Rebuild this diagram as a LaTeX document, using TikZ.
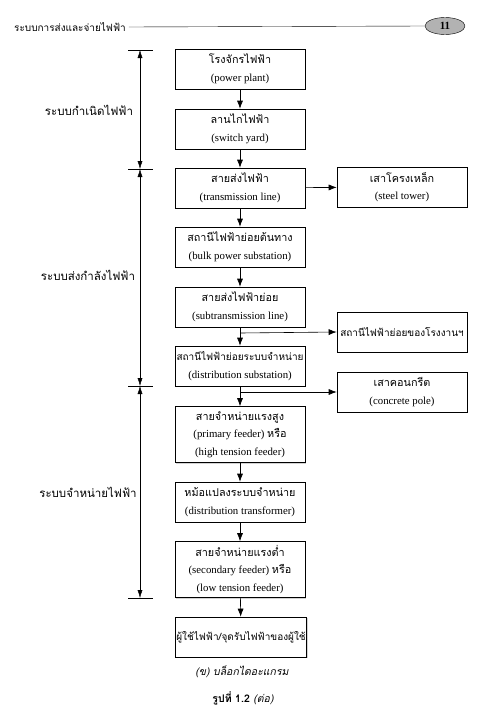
\documentclass[tikz,border=0pt]{standalone}
\usepackage{fontspec}
\setmainfont{Liberation Serif}
\newfontfamily\thaifont[Script=Thai]{Loma}
\newcommand\thaitight{\thaifont\fontsize{10}{17.5}\selectfont}
\usetikzlibrary{arrows.meta,shadows,shapes.geometric}

\tikzset{
  blk/.style={draw, semithick, fill=white, minimum width=130pt, minimum height=40pt,
    align=center, inner sep=1pt, font=\fontsize{10.8}{17.5}\selectfont,
    drop shadow={shadow xshift=1.2pt, shadow yshift=-1.2pt, opacity=0.35}},
  tall/.style={blk, minimum height=56pt},
  flow/.style={-{Latex[length=8pt,width=6pt]}, semithick},
  span/.style={{Latex[length=8pt,width=5pt]}-{Latex[length=8pt,width=5pt]}, thin},
  lbl/.style={font=\thaifont\fontsize{11.5}{13}\selectfont}
}

\begin{document}
\begin{tikzpicture}[x=1pt, y=-1pt]
\useasboundingbox (0,0) rectangle (489,720);

% page header
\node[font=\thaifont\fontsize{10}{12}\selectfont, anchor=west, inner sep=0pt] (head) at (14,27) {ระบบการส่งและจ่ายไฟฟ้า};
\node[draw, thin, ellipse, fill=gray!60, minimum width=40pt, minimum height=17pt, inner sep=0pt,
  font=\bfseries\fontsize{11}{11}\selectfont] (pg) at (445,26) {11};
\draw[thin] ([xshift=3pt]head.east) -- (pg.west);

% main chain
\node[blk] (plant) at (240,69) {{\thaifont โรงจักรไฟฟ้า}\\(power plant)};
\node[blk] (yard) at (240,129) {{\thaifont ลานไกไฟฟ้า}\\(switch yard)};
\node[blk] (tline) at (240,188) {{\thaifont สายส่งไฟฟ้า}\\(transmission line)};
\node[blk] (bulk) at (240,247) {{\thaifont สถานีไฟฟ้าย่อยต้นทาง}\\(bulk power substation)};
\node[blk] (subt) at (240,307) {{\thaifont สายส่งไฟฟ้าย่อย}\\(subtransmission line)};
\node[blk] (dsub) at (240,366) {{\thaitight สถานีไฟฟ้าย่อยระบบจำหน่าย}\\(distribution substation)};
\node[tall] (prim) at (240,434.5) {{\thaifont สายจำหน่ายแรงสูง}\\(primary feeder) {\thaifont หรือ}\\(high tension feeder)};
\node[blk] (trf) at (240,502) {{\thaifont หม้อแปลงระบบจำหน่าย}\\(distribution transformer)};
\node[tall] (sec) at (240,569.5) {{\thaifont สายจำหน่ายแรงต่ำ}\\(secondary feeder) {\thaifont หรือ}\\(low tension feeder)};
\node[blk] (user) at (241,637) {\thaitight ผู้ใช้ไฟฟ้า/จุดรับไฟฟ้าของผู้ใช้};

% side boxes
\node[blk] (tower) at (402,187) {{\thaifont เสาโครงเหล็ก}\\(steel tower)};
\node[blk] (fact) at (402,332) {\thaitight สถานีไฟฟ้าย่อยของโรงงานฯ};
\node[blk] (pole) at (402,392) {{\thaifont เสาคอนกรีต}\\(concrete pole)};

\draw[flow] (plant) -- (yard);
\draw[flow] (yard) -- (tline);
\draw[flow] (tline) -- (bulk);
\draw[flow] (bulk) -- (subt);
\draw[flow] (subt) -- (dsub);
\draw[flow] (dsub) -- (prim);
\draw[flow] (prim) -- (trf);
\draw[flow] (trf) -- (sec);
\draw[flow] (sec) -- (user);
\draw[flow] (tline) -- (tower);

\coordinate (j1) at (240,333);
\coordinate (j2) at (240,392);
\draw[flow] (j1) -- (fact.west);
\draw[flow] (j2) -- (pole.west);

% system spans
\coordinate (t1) at (140,50);
\coordinate (t2) at (140,169);
\coordinate (t3) at (140,386);
\coordinate (t4) at (140,598);
\foreach \t in {t1,t2,t3,t4}
  \draw[thin] ([xshift=-12pt]\t) -- ([xshift=13pt]\t);
\draw[span] (t1) -- (t2);
\draw[span] (t2) -- (t3);
\draw[span] (t3) -- (t4);

\node[lbl] (gen) at (89,110) {ระบบกำเนิดไฟฟ้า};
\node[lbl] (trans) at (88,275) {ระบบส่งกำลังไฟฟ้า};
\node[lbl] (dist) at (88,492) {ระบบจำหน่ายไฟฟ้า};

% captions
\node[font=\thaifont\itshape\fontsize{10.5}{12}\selectfont] (cap) at (242,672) {(ข) บล็อกไดอะแกรม};
\node[font=\thaifont\fontsize{10.5}{12}\selectfont] (fig) at (243,698) {{\bfseries รูปที่ 1.2} {\itshape(ต่อ)}};
\end{tikzpicture}
\end{document}
